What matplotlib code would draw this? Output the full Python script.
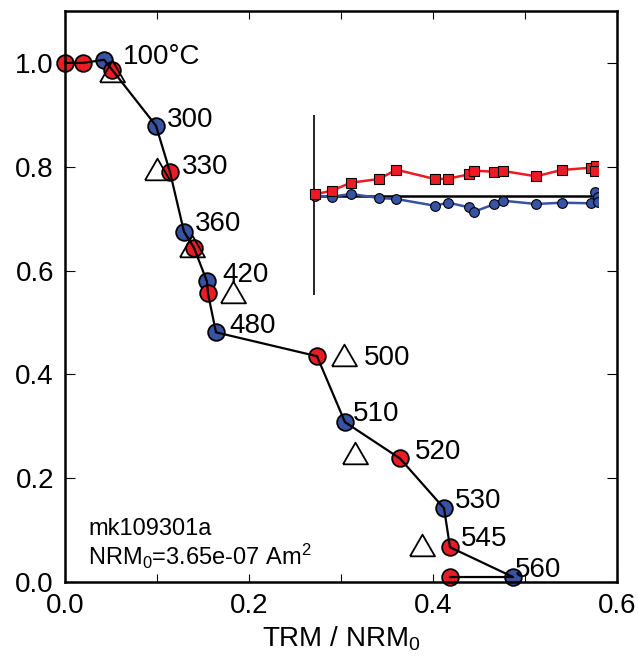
import matplotlib
matplotlib.use('Agg')
import matplotlib.pyplot as plt

plt.rcParams['font.family'] = ['Liberation Sans', 'DejaVu Sans']
plt.rcParams['mathtext.default'] = 'regular'

RED = '#ec1c24'
BLUE = '#3953a4'

# Arai plot: steps in measurement order (x = TRM/NRM0, y = NRM/NRM0)
step_x = [0.0, 0.0196, 0.0424, 0.0511, 0.0989, 0.1141, 0.1293, 0.1402, 0.1543,
          0.1554, 0.1641, 0.2739, 0.3043, 0.3641, 0.4120, 0.4185, 0.4870, 0.4185]
step_y = [1.0, 1.0, 1.006, 0.987, 0.879, 0.790, 0.675, 0.644, 0.579,
          0.556, 0.481, 0.435, 0.308, 0.238, 0.142, 0.067, 0.0096, 0.0096]
step_kind = ['r', 'r', 'b', 'r', 'b', 'r', 'b', 'r', 'b',
             'r', 'b', 'r', 'b', 'r', 'b', 'r', 'b', 'r']

# pTRM checks
check_x = [0.0508, 0.100, 0.138, 0.1826, 0.3033, 0.3152, 0.388]
check_y = [0.985, 0.796, 0.648, 0.558, 0.437, 0.248, 0.071]

# temperature labels: index of step they belong to, text
label_step = [2, 4, 5, 6, 8, 10, 11, 12, 13, 14, 15, 16]
label_text = ['100°C', '300', '330', '360', '420', '480', '500', '510', '520', '530', '545', '560']
label_off = [(13.7, 4.3), (7.9, 6.5), (8.6, 5.8), (7.9, 7.9), (10.8, 6.5), (9.4, 6.5),
             (33.8, 0.7), (5.8, 7.9), (10.8, 6.5), (7.9, 7.2), (7.9, 7.9), (1.4, 7.2)]

# inset strip, arbitrary units
inset_red_x = [1, 17.7, 37, 65, 82.3, 120.7, 134.3, 155, 160, 180, 189.3, 222, 247.7, 277, 282, 281]
inset_red_y = [1.7, 5.3, 13.3, 17, 26.3, 17, 17.3, 21.7, 25.3, 24.3, 25, 19.7, 26, 28.3, 30, 25.3]
inset_blue_x = [1, 17.7, 37, 65, 82.3, 120.7, 134.3, 155, 160, 180, 189.3, 222, 247.7, 277, 281, 284, 284]
inset_blue_y = [0.3, -0.7, 2, -2, -3, -9.7, -6.7, -11.3, -15.7, -8.3, -4.7, -8, -6.7, -7.3, 4.3, -0.7, -5.7]

fig = plt.figure(figsize=(6.38, 6.58), dpi=100)
ax = fig.add_axes([65 / 638, 76 / 658, 552 / 638, 571 / 658])

ax.plot(step_x, step_y, color='black', lw=1.6, zorder=3, clip_on=False)
bx = [x for x, k in zip(step_x, step_kind) if k == 'b']
by = [y for y, k in zip(step_y, step_kind) if k == 'b']
rx = [x for x, k in zip(step_x, step_kind) if k == 'r']
ry = [y for y, k in zip(step_y, step_kind) if k == 'r']
ax.plot(bx, by, 'o', ms=12, mfc=BLUE, mec='black', mew=1.3, zorder=2, clip_on=False)
ax.plot(rx, ry, 'o', ms=12, mfc=RED, mec='black', mew=1.3, zorder=2.5, clip_on=False)

tri = [(-1, -0.866), (1, -0.866), (0, 0.866), (-1, -0.866)]
ax.plot(check_x, check_y, linestyle='none', marker=tri, ms=18, mfc='none', mec='black',
        mew=1.3, zorder=4, clip_on=False)

for i, t, off in zip(label_step, label_text, label_off):
    ax.annotate(t, (step_x[i], step_y[i]), xytext=(off[0], off[1] - 7.2),
                textcoords='offset points', ha='left', va='baseline', fontsize=20, zorder=5)

ax.text(0.0417, 0.0823, 'mk109301a', transform=ax.transAxes, fontsize=17, va='baseline')
ax.text(0.0417, 0.0298, 'NRM$_0$=3.65e-07 Am$^2$', transform=ax.transAxes, fontsize=17, va='baseline')

ax.set_xlim(0, 0.6)
ax.set_ylim(0, 1.1)
ax.set_xticks([0.0, 0.2, 0.4, 0.6])
ax.set_xticks([0.1, 0.3, 0.5], minor=True)
ax.set_yticks([0.0, 0.2, 0.4, 0.6, 0.8, 1.0])
ax.set_xticklabels(['0.0', '0.2', '0.4', '0.6'])
ax.set_yticklabels(['0.0', '0.2', '0.4', '0.6', '0.8', '1.0'])
ax.tick_params(axis='x', which='both', direction='in', top=True, length=6, width=0.8,
               labelsize=20, pad=8)
ax.tick_params(axis='y', which='both', direction='in', right=True, length=7, width=0.8,
               labelsize=20, pad=8)
for s in ax.spines.values():
    s.set_linewidth(1.8)
ax.set_xlabel('TRM / NRM$_0$', fontsize=20, labelpad=4)

# inset
ins = fig.add_axes([300 / 638, 363 / 658, 298 / 638, 180 / 658])
ins.patch.set_alpha(0)
for s in ins.spines.values():
    s.set_visible(False)
ins.set_xticks([])
ins.set_yticks([])
ins.set_xlim(-14, 284)
ins.set_ylim(-99, 81)
ins.axvline(0, color='black', lw=1.2)
ins.hlines(0, 0, 284, color='black', lw=1.8, zorder=2)
ins.plot(inset_blue_x, inset_blue_y, '-o', color=BLUE, lw=1.8, ms=7, mfc=BLUE,
         mec='black', mew=0.8, zorder=3)
ins.plot(inset_red_x, inset_red_y, '-s', color=RED, lw=1.8, ms=7, mfc=RED,
         mec='black', mew=0.8, zorder=4)

fig.savefig('out.png', dpi=100)
